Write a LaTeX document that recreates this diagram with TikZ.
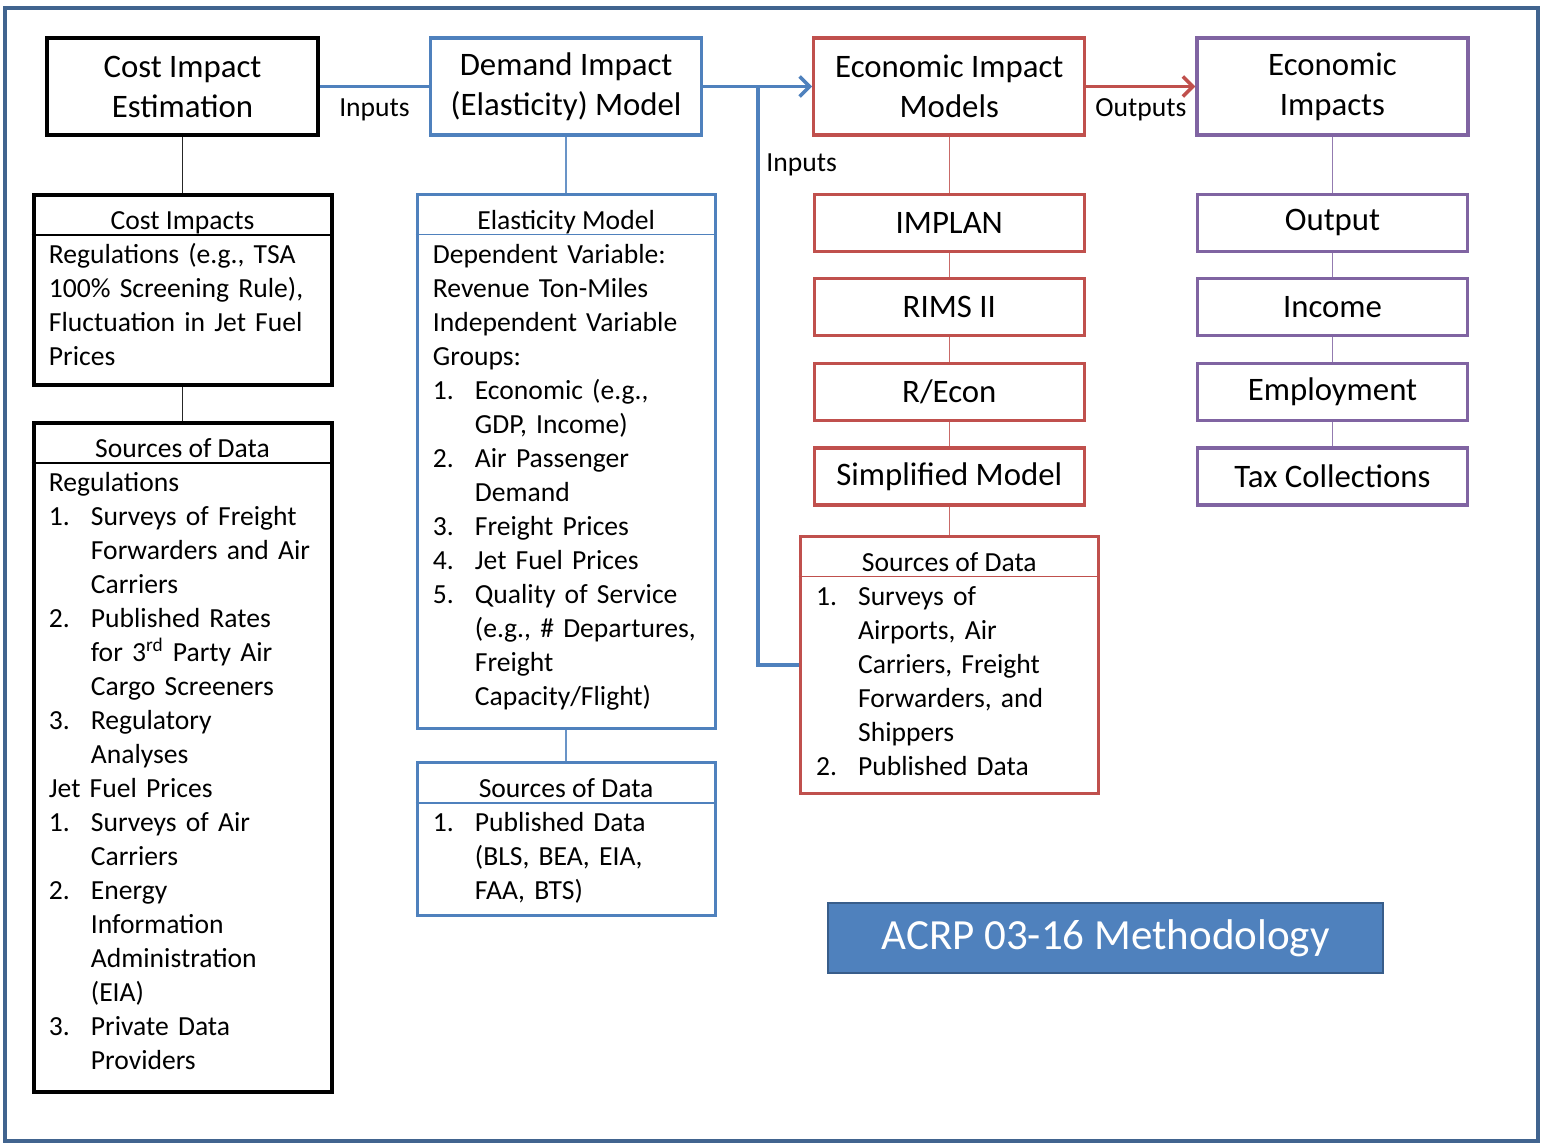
\documentclass[tikz,border=0pt]{standalone}
\usepackage{fontspec}
\setmainfont{Carlito}
\usepackage{xcolor}
\definecolor{frameblue}{HTML}{41648F}
\definecolor{boxblue}{HTML}{4F81BD}
\definecolor{boxred}{HTML}{C0504D}
\definecolor{boxpurple}{HTML}{8064A2}
\definecolor{darkblue}{HTML}{385D8A}
\usetikzlibrary{arrows.meta,positioning}

\newcommand{\titlefont}{\fontsize{16.4}{20}\selectfont}
\newcommand{\bodyfont}{\fontsize{13.8}{17}\selectfont}
\newcommand{\numit}[1]{\makebox[21pt][l]{#1}}
\newcommand{\contit}{\hspace*{21pt}}

\begin{document}
\begin{tikzpicture}[
  x=0.5pt, y=-0.5pt,
  node distance=28pt and 54.5pt,
  stage/.style={
    rectangle, draw=#1, fill=white, line width=1.6pt, align=center,
    font=\titlefont, minimum width=135.5pt, minimum height=48.5pt, inner sep=2pt
  },
  model/.style={
    rectangle, draw=#1, fill=white, line width=1.6pt,
    font=\titlefont, minimum width=135pt, minimum height=28.5pt, inner sep=2pt
  },
  panel/.style={rectangle, draw=#1, fill=white, line width=1.6pt, minimum width=149pt},
  hdr/.style={font=\bodyfont, anchor=base, inner sep=0pt},
  body/.style={font=\bodyfont, anchor=base west, inner sep=0pt, text width=150pt, align=left},
  divider/.style={draw=#1, line width=0.7pt},
  link/.style={draw=#1!85, line width=0.8pt},
  flow/.style={draw=#1, line width=1.8pt},
  tip/.style={-{Straight Barb[length=5pt,width=10pt]}},
  lbl/.style={font=\bodyfont, inner sep=1pt},
  banner/.style={
    rectangle, fill=boxblue, draw=darkblue, line width=1pt, text=white,
    font=\fontsize{21.5}{25}\selectfont, minimum width=277.5pt, minimum height=35pt
  }
]
\useasboundingbox (0,0) rectangle (1543,1144);
\draw[frameblue, line width=2pt] (5,8) rectangle (1538,1141);

% top row
\node[stage=black, line width=2pt] (costest) at (182.5,86.5) {Cost Impact\\Estimation};
\node[stage=boxblue, right=of costest] (demand) {Demand Impact\\(Elasticity) Model};
\node[stage=boxred, right=of demand] (econmod) {Economic Impact\\Models};
\node[stage=boxpurple, right=of econmod] (econimp) {Economic\\Impacts};

% cost column
\node[panel=black, line width=2pt, minimum height=95pt, below=of costest] (costbox) {};
\node[panel=black, line width=2pt, minimum height=334.5pt, below=17pt of costbox] (srcleft) {};

% demand column
\node[panel=boxblue, minimum height=267pt, below=of demand] (elastic) {};
\node[panel=boxblue, minimum height=76.5pt, below=15.5pt of elastic] (srcmid) {};

% model column
\node[model=boxred, below=of econmod] (implan) {IMPLAN};
\node[model=boxred, below=12.2pt of implan] (rims) {RIMS II};
\node[model=boxred, below=12.2pt of rims] (recon) {R/Econ};
\node[model=boxred, below=12.2pt of recon] (simple) {Simplified Model};
\node[panel=boxred, minimum height=128.5pt, below=14pt of simple] (srcright) {};

% impacts column
\node[model=boxpurple, below=of econimp] (output) {Output};
\node[model=boxpurple, below=12.2pt of output] (income) {Income};
\node[model=boxpurple, below=12.2pt of income] (employ) {Employment};
\node[model=boxpurple, below=12.2pt of employ] (taxes) {Tax Collections};

% panel headers and dividers
\node[hdr] (costhdr) at ([yshift=-18.5pt]costbox.north) {Cost Impacts};
\node[hdr] (srclefthdr) at ([yshift=-18.5pt]srcleft.north) {Sources of Data};
\node[hdr] (elastichdr) at ([yshift=-18.5pt]elastic.north) {Elasticity Model};
\node[hdr] (srcmidhdr) at ([yshift=-18.5pt]srcmid.north) {Sources of Data};
\node[hdr] (srcrighthdr) at ([yshift=-18.5pt]srcright.north) {Sources of Data};

\foreach \b/\c in {costbox/black, srcleft/black, elastic/boxblue, srcmid/boxblue, srcright/boxred}
  \draw[divider=\c] ([yshift=-21pt]\b.north west) -- ([yshift=-21pt]\b.north east);

% panel texts
\node[body] (costtxt) at ([xshift=8.5pt,yshift=-35.5pt]costbox.north west) {Regulations (e.g., TSA\\100\% Screening Rule),\\Fluctuation in Jet Fuel\\Prices};
\node[body] (srclefttxt) at ([xshift=8.5pt,yshift=-35.5pt]srcleft.north west) {Regulations\\
  \numit{1.}Surveys of Freight\\\contit Forwarders and Air\\\contit Carriers\\
  \numit{2.}Published Rates\\\contit for 3\textsuperscript{rd} Party Air\\\contit Cargo Screeners\\
  \numit{3.}Regulatory\\\contit Analyses\\
  Jet Fuel Prices\\
  \numit{1.}Surveys of Air\\\contit Carriers\\
  \numit{2.}Energy\\\contit Information\\\contit Administration\\\contit (EIA)\\
  \numit{3.}Private Data\\\contit Providers};
\node[body] (elastictxt) at ([xshift=8.5pt,yshift=-35.5pt]elastic.north west) {Dependent Variable:\\Revenue Ton-Miles\\Independent Variable\\Groups:\\
  \numit{1.}Economic (e.g.,\\\contit GDP, Income)\\
  \numit{2.}Air Passenger\\\contit Demand\\
  \numit{3.}Freight Prices\\
  \numit{4.}Jet Fuel Prices\\
  \numit{5.}Quality of Service\\\contit (e.g., \# Departures,\\\contit Freight\\\contit Capacity/Flight)};
\node[body] (srcmidtxt) at ([xshift=8.5pt,yshift=-35.5pt]srcmid.north west) {\numit{1.}Published Data\\\contit (BLS, BEA, EIA,\\\contit FAA, BTS)};
\node[body] (srcrighttxt) at ([xshift=8.5pt,yshift=-35.5pt]srcright.north west) {\numit{1.}Surveys of\\\contit Airports, Air\\\contit Carriers, Freight\\\contit Forwarders, and\\\contit Shippers\\
  \numit{2.}Published Data};

% thin links
\foreach \a/\b/\c in {costest/costbox/black, costbox/srcleft/black, demand/elastic/boxblue, elastic/srcmid/boxblue,
  econmod/implan/boxred, implan/rims/boxred, rims/recon/boxred, recon/simple/boxred, simple/srcright/boxred,
  econimp/output/boxpurple, output/income/boxpurple, income/employ/boxpurple, employ/taxes/boxpurple}
  \draw[link=\c] (\a) -- (\b);

% main flow
\draw[flow=boxblue] (costest) -- node[lbl, below=4pt] (inlbl) {Inputs} (demand);
\draw[flow=boxblue, tip] (demand) -- coordinate[pos=0.5] (split) (econmod);
\draw[flow=boxblue] (split) |- (srcright);
\node[lbl, anchor=west] (inlbl2) at (764,165) {Inputs};
\draw[flow=boxred, tip] (econmod) -- node[lbl, below=4pt] (outlbl) {Outputs} (econimp);

\node[banner] (acrp) at (1105.5,938) {ACRP 03-16 Methodology};

\end{tikzpicture}
\end{document}
